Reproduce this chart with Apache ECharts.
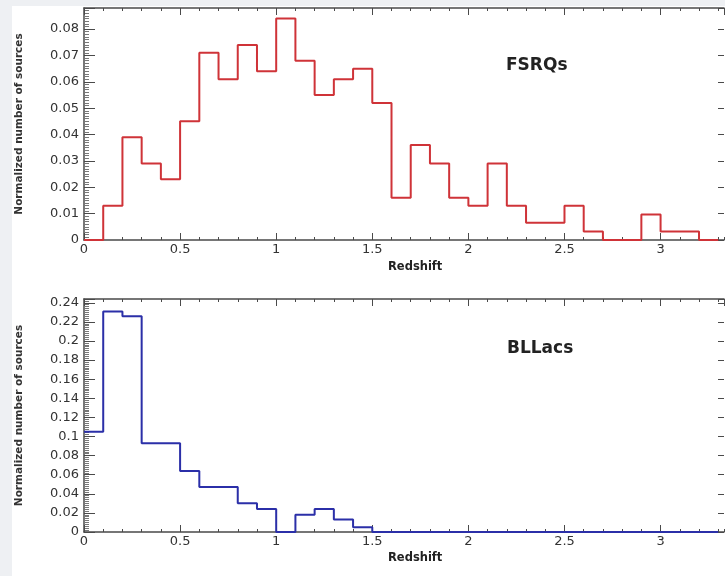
<!DOCTYPE html>
<html>
<head>
<meta charset="utf-8">
<script src="https://cdn.jsdelivr.net/npm/echarts@6/dist/echarts.min.js"></script>
<style>
  html, body { margin: 0; padding: 0; background: #eef0f3; }
  #paper { position: absolute; left: 12px; top: 6px; width: 713px; height: 570px; background: #ffffff; }
  #chart { position: absolute; left: 0; top: 0; width: 725px; height: 576px; }
</style>
</head>
<body>
<div id="paper"></div>
<div id="chart"></div>
<script>
// redshift bin edges (width 0.1)
var binEdges = [0, 0.1, 0.2, 0.3, 0.4, 0.5, 0.6, 0.7, 0.8, 0.9, 1.0, 1.1, 1.2, 1.3, 1.4, 1.5, 1.6,
  1.7, 1.8, 1.9, 2.0, 2.1, 2.2, 2.3, 2.4, 2.5, 2.6, 2.7, 2.8, 2.9, 3.0, 3.1, 3.2, 3.3];

// normalized counts per bin
var fsrqValues = [0, 0.013, 0.039, 0.029, 0.023, 0.045, 0.071, 0.061, 0.074, 0.064, 0.084,
  0.068, 0.055, 0.061, 0.065, 0.052, 0.016, 0.036, 0.029, 0.016, 0.013, 0.029, 0.013,
  0.0065, 0.0065, 0.013, 0.0032, 0, 0, 0.0097, 0.0032, 0.0032, 0];
var bllacValues = [0.105, 0.231, 0.226, 0.093, 0.093, 0.064, 0.047, 0.047, 0.030, 0.024, 0,
  0.018, 0.024, 0.013, 0.005, 0, 0, 0, 0, 0, 0, 0, 0, 0, 0, 0, 0, 0, 0, 0, 0, 0, 0];

var panelNames = ["FSRQs", "BLLacs"];
var xTitle = "Redshift";
var yTitle = "Normalized number of sources";

var FONT = "DejaVu Sans, Verdana, sans-serif";
var frameColor = "#4a4a4a";
var textColor = "#333333";

/*TODO: histogram as step line*/
function stepPoints(edges, vals) {
  var pts = vals.map(function (v, i) { return [edges[i], v]; });
  pts.push([edges[vals.length], vals[vals.length - 1]]);
  return pts;
}

function xAxes(g) {
  var base = {
    gridIndex: g, type: "value", min: 0, max: 3.33,
    splitLine: { show: false },
    axisLine: { onZero: false, lineStyle: { color: frameColor, width: 1.5 } },
    axisTick: { inside: true, lineStyle: { color: frameColor, width: 1 } },
    axisLabel: { show: false }
  };
  function mk(pos, interval, len, line, labels) {
    var a = JSON.parse(JSON.stringify(base));
    a.position = pos;
    a.interval = interval;
    a.axisTick.length = len;
    a.axisLine.show = line;
    if (labels) {
      a.axisLabel = { show: true, color: textColor, fontSize: 13, fontFamily: FONT,
        margin: 3, showMaxLabel: false };
    }
    return a;
  }
  return [
    mk("bottom", 0.1, 3, true, false),
    mk("bottom", 0.5, 7, false, true),
    mk("top", 0.1, 3, true, false),
    mk("top", 0.5, 7, false, false)
  ];
}

function yAxes(g, max, interval) {
  return [
    {
      gridIndex: g, type: "value", position: "left", min: 0, max: max, interval: interval,
      splitLine: { show: false },
      axisLine: { onZero: false, lineStyle: { color: frameColor, width: 1.5 } },
      axisTick: { inside: true, length: 11, lineStyle: { color: frameColor } },
      minorTick: { show: true, splitNumber: 10, length: 5, lineStyle: { color: "#777" } },
      axisLabel: { color: textColor, fontSize: 13, fontFamily: FONT, margin: 5, showMaxLabel: false },
      name: yTitle, nameLocation: "middle", nameRotate: 90, nameGap: 59,
      nameTextStyle: { color: textColor, fontSize: 10.5, fontFamily: FONT, fontWeight: "bold" }
    },
    {
      gridIndex: g, type: "value", position: "right", min: 0, max: max, interval: interval,
      splitLine: { show: false },
      axisLine: { show: false, onZero: false },
      axisTick: { inside: true, length: 6, lineStyle: { color: frameColor } },
      axisLabel: { show: false }
    }
  ];
}

var chart = echarts.init(document.getElementById("chart"));
var option = {
  animation: false,
  backgroundColor: "transparent",
  textStyle: { fontFamily: FONT },
  grid: [
    { left: 84, top: 8, width: 640, height: 232 },
    { left: 84, top: 299, width: 640, height: 233 }
  ],
  xAxis: xAxes(0).concat(xAxes(1)),
  yAxis: yAxes(0, 0.088, 0.01).concat(yAxes(1, 0.244, 0.02)),
  series: [
    {
      name: panelNames[0], type: "line", step: "end", xAxisIndex: 0, yAxisIndex: 0,
      showSymbol: false, data: stepPoints(binEdges, fsrqValues),
      lineStyle: { color: "#cf3338", width: 2 }
    },
    {
      name: panelNames[1], type: "line", step: "end", xAxisIndex: 4, yAxisIndex: 2,
      showSymbol: false, data: stepPoints(binEdges, bllacValues),
      lineStyle: { color: "#2b2fa8", width: 2 }
    }
  ],
  graphic: [
    { type: "text", left: 506, top: 57, style: { text: panelNames[0], font: "bold 17px " + FONT, fill: "#222" } },
    { type: "text", left: 507, top: 340, style: { text: panelNames[1], font: "bold 17px " + FONT, fill: "#222" } },
    { type: "text", left: 388, top: 261, style: { text: xTitle, font: "bold 11.5px " + FONT, fill: "#222" } },
    { type: "text", left: 388, top: 552, style: { text: xTitle, font: "bold 11.5px " + FONT, fill: "#222" } }
  ]
};
chart.setOption(option);
</script>
</body>
</html>
